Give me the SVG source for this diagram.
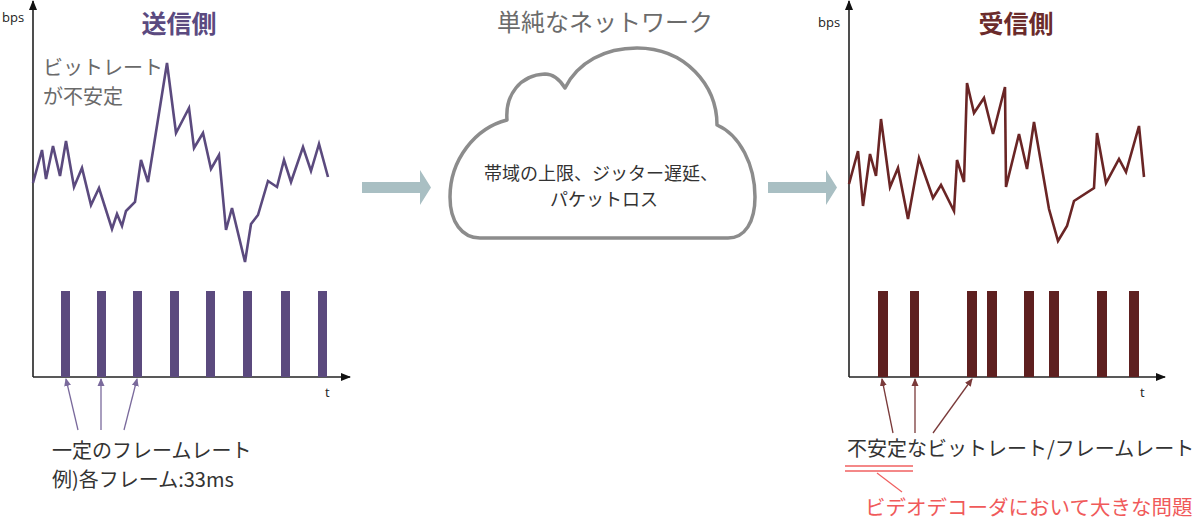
<svg xmlns="http://www.w3.org/2000/svg" width="1200" height="520" viewBox="0 0 1200 520">
<defs>
<marker id="axh" markerWidth="10" markerHeight="10" refX="9" refY="5" orient="auto" markerUnits="userSpaceOnUse"><path d="M0,1 L10,5 L0,9 Z" fill="#111"/></marker>
<marker id="ph" markerWidth="8" markerHeight="8" refX="7" refY="4" orient="auto" markerUnits="userSpaceOnUse"><path d="M0,0.5 L8,4 L0,7.5 Z" fill="#7a6a9c"/></marker>
<marker id="rh" markerWidth="8" markerHeight="8" refX="7" refY="4" orient="auto" markerUnits="userSpaceOnUse"><path d="M0,0.5 L8,4 L0,7.5 Z" fill="#7a3a3a"/></marker>
<style>
.jp{font-family:"Noto Sans CJK JP","Noto Sans",sans-serif}
.lbl{font-family:"Open Sans","Liberation Sans",sans-serif;font-size:13px;fill:#222}
.axis{stroke:#222;stroke-width:1.6;fill:none}
.pline{stroke:#5b4a7e;stroke-width:2.6;fill:none;stroke-linejoin:miter}
.rline{stroke:#6a2525;stroke-width:2.6;fill:none;stroke-linejoin:miter}
.pbar{fill:#5b4a7e}
.rbar{fill:#5e2020}
.parr{stroke:#7a6a9c;stroke-width:1.3;fill:none}
.rarr{stroke:#7a3a3a;stroke-width:1.3;fill:none}
.big{fill:#a9bfc3}
</style>
</defs>

<g id="sender">
<text class="lbl" x="2" y="22">bps</text>
<line class="axis" x1="33" y1="377" x2="33" y2="1" marker-end="url(#axh)"/>
<line class="axis" x1="33" y1="377" x2="350" y2="377" marker-end="url(#axh)"/>
<text class="lbl" x="325" y="397">t</text>
<text class="jp" x="179" y="33" font-size="25" font-weight="bold" fill="#5b4a80" text-anchor="middle">送信側</text>
<text class="jp" font-size="20" fill="#6a6a6a"><tspan x="43" y="75">ビットレート</tspan><tspan x="43" y="104">が不安定</tspan></text>
<polyline class="pline" points="33,183 42,150 46,179 53,146 60,176 66,141 74,187 82,168 91,205 99,188 112,229 117,214 122,226 126,211 135,202 141,160 148,182 167,63 176,133 189,108 194,148 203,133 211,169 219,155 226,230 232,208 245,262 251,224 258,215 268,181 277,187 284,160 291,182 303,147 311,171 319,144 328,177"/>
<rect class="pbar" x="61" y="291" width="9" height="86"/>
<rect class="pbar" x="97" y="291" width="9" height="86"/>
<rect class="pbar" x="133" y="291" width="9" height="86"/>
<rect class="pbar" x="170" y="291" width="9" height="86"/>
<rect class="pbar" x="206" y="291" width="9" height="86"/>
<rect class="pbar" x="243" y="291" width="9" height="86"/>
<rect class="pbar" x="281" y="291" width="9" height="86"/>
<rect class="pbar" x="318" y="291" width="9" height="86"/>
<text class="jp" font-size="20" fill="#333"><tspan x="52" y="458">一定のフレームレート</tspan><tspan x="52" y="487">例)各フレーム:33ms</tspan></text>
</g>

<g id="network">
<text class="jp" x="605" y="31" font-size="24" fill="#6b6b6b" text-anchor="middle">単純なネットワーク</text>
<path d="M480,238 C462,238 450,222 450,197 C450,160 475,128 507,120 C505,95 520,75 545,74 C553,74 560,80 565,88 C578,62 605,48 637,48 C685,48 717,85 717,125 C740,135 755,165 755,197 C755,222 745,238 728,238 Z" fill="#fff" stroke="#8c8c8c" stroke-width="3.5" stroke-linejoin="round"/>
<text class="jp" font-size="18" fill="#333" text-anchor="middle"><tspan x="601" y="180">帯域の上限、ジッター遅延、</tspan><tspan x="604" y="206">パケットロス</tspan></text>
</g>

<g id="receiver">
<text class="lbl" x="818" y="27">bps</text>
<line class="axis" x1="849" y1="377" x2="849" y2="1" marker-end="url(#axh)"/>
<line class="axis" x1="849" y1="377" x2="1165" y2="377" marker-end="url(#axh)"/>
<text class="lbl" x="1140" y="397">t</text>
<text class="jp" x="1016" y="33" font-size="25" font-weight="bold" fill="#6b2b2b" text-anchor="middle">受信側</text>
<polyline class="rline" points="849,184 858,151 863,206 870,154 876,176 881,119 890,187 898,168 908,219 919,158 933,198 941,185 954,211 957,160 964,182 967,83 974,113 984,98 993,134 1005,87 1006,187 1019,134 1027,169 1034,122 1049,209 1058,241 1067,226 1074,201 1094,188 1097,133 1106,183 1119,159 1126,172 1139,126 1144,177"/>
<rect class="rbar" x="878" y="291" width="10" height="86"/>
<rect class="rbar" x="910" y="291" width="9" height="86"/>
<rect class="rbar" x="967" y="291" width="10" height="86"/>
<rect class="rbar" x="987" y="291" width="10" height="86"/>
<rect class="rbar" x="1024" y="291" width="10" height="86"/>
<rect class="rbar" x="1049" y="291" width="10" height="86"/>
<rect class="rbar" x="1097" y="291" width="10" height="86"/>
<rect class="rbar" x="1129" y="291" width="10" height="86"/>
<text class="jp" x="847" y="456" font-size="20" fill="#333">不安定なビットレート/フレームレート</text>
<line x1="845" y1="466" x2="913" y2="466" stroke="#f06060" stroke-width="1.5"/>
<line x1="845" y1="471" x2="913" y2="471" stroke="#f06060" stroke-width="1.5"/>
<line x1="877" y1="473" x2="902" y2="492" stroke="#f06060" stroke-width="1.2"/>
<text class="jp" x="865" y="515" font-size="20.5" fill="#f05a5a">ビデオデコーダにおいて大きな問題</text>
</g>

<g id="connectors">
<path class="big" d="M362,182 L420,182 L420,170 L431,187.5 L420,205 L420,193 L362,193 Z"/>
<path class="big" d="M768,182 L826,182 L826,170 L837,187.5 L826,205 L826,193 L768,193 Z"/>
<line class="parr" x1="78" y1="430" x2="66" y2="379" marker-end="url(#ph)"/>
<line class="parr" x1="101" y1="430" x2="101" y2="379" marker-end="url(#ph)"/>
<line class="parr" x1="124" y1="430" x2="137" y2="379" marker-end="url(#ph)"/>
<line class="rarr" x1="893" y1="433" x2="882" y2="379" marker-end="url(#rh)"/>
<line class="rarr" x1="915" y1="433" x2="915" y2="379" marker-end="url(#rh)"/>
<line class="rarr" x1="933" y1="433" x2="972" y2="379" marker-end="url(#rh)"/>
</g>
</svg>
